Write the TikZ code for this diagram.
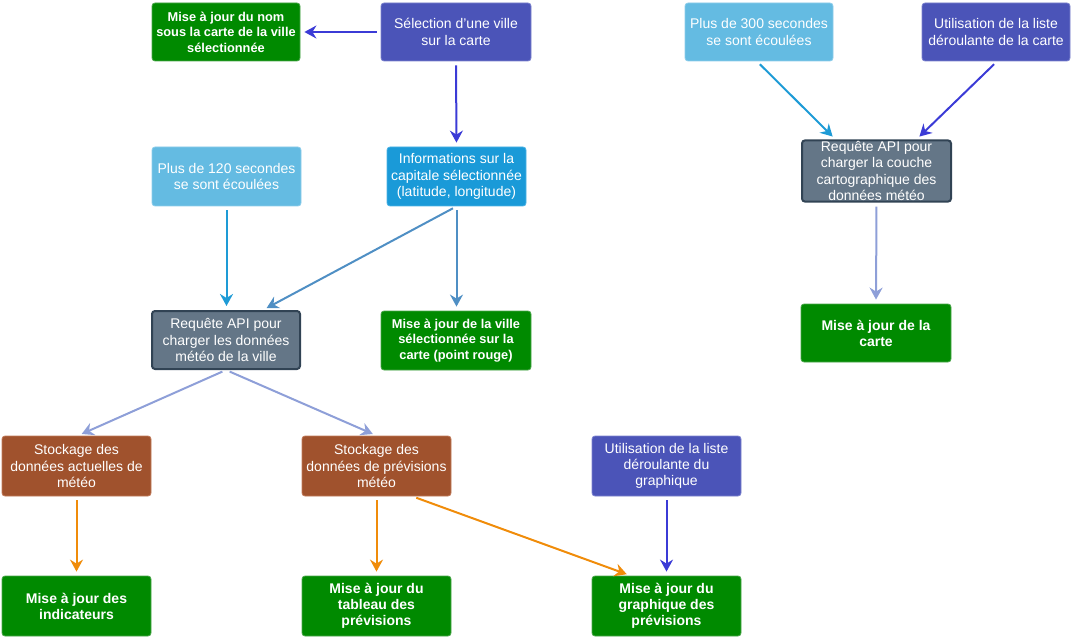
\documentclass[tikz,border=0pt]{standalone}
\usepackage{fontspec}
\setmainfont{Liberation Sans}
\usetikzlibrary{arrows.meta}
\definecolor{cgreen}{HTML}{008A00}
\definecolor{cgreenb}{HTML}{4CA64C}
\definecolor{cpurple}{HTML}{4B54B8}
\definecolor{cpurpleb}{HTML}{7C82CE}
\definecolor{clblue}{HTML}{64BBE2}
\definecolor{clblueb}{HTML}{8ECDEA}
\definecolor{cblue}{HTML}{1A9AD8}
\definecolor{cblueb}{HTML}{4CB3E4}
\definecolor{cgray}{HTML}{647687}
\definecolor{cgrayb}{HTML}{314354}
\definecolor{cbrown}{HTML}{A0522D}
\definecolor{cbrownb}{HTML}{C07A5A}
\definecolor{aviolet}{HTML}{3B3BD6}
\definecolor{acyan}{HTML}{1E9BD6}
\definecolor{asteel}{HTML}{4F8FC4}
\definecolor{aperi}{HTML}{8E9FD8}
\definecolor{aorange}{HTML}{F08C0A}
\tikzset{
  box/.style={rectangle, rounded corners=3pt, align=center, text=white,
    font=\fontsize{14}{16.3}\selectfont, inner sep=1pt, line width=0.8pt},
  gbox/.style={box, fill=cgreen, draw=cgreenb, font=\fontsize{12.8}{15.5}\selectfont\bfseries},
  gbigbox/.style={gbox, font=\fontsize{14}{16}\selectfont\bfseries},
  pbox/.style={box, fill=cpurple, draw=cpurpleb},
  lbbox/.style={box, fill=clblue, draw=clblueb},
  bbox/.style={box, fill=cblue, draw=cblueb},
  graybox/.style={box, fill=cgray, draw=cgrayb, line width=2pt},
  brbox/.style={box, fill=cbrown, draw=cbrownb},
  arr/.style={line width=2pt, -{Stealth[length=12pt,width=13pt,inset=4pt]}, shorten >=4pt, shorten <=4pt}
}
\begin{document}
\begin{tikzpicture}[x=1pt,y=-1pt]
\useasboundingbox (0,0) rectangle (1073,639);
\node[gbox, minimum width=148, minimum height=58] (nom) at (226,32) {Mise à jour du nom\\sous la carte de la ville\\sélectionnée};
\node[pbox, minimum width=150, minimum height=58] (sel) at (456,32) {Sélection d'une ville\\sur la carte};
\node[lbbox, minimum width=148, minimum height=58] (p300) at (759,32) {Plus de 300 secondes\\se sont écoulées};
\node[pbox, minimum width=148, minimum height=58] (ucarte) at (996,32) {Utilisation de la liste\\déroulante de la carte};
\node[graybox, minimum width=149, minimum height=58] (rcouche) at (876.5,171) {Requête API pour\\charger la couche\\cartographique des\\données météo};
\node[lbbox, minimum width=149, minimum height=59] (p120) at (226.5,176.5) {Plus de 120 secondes\\se sont écoulées};
\node[bbox, minimum width=139, minimum height=59] (info) at (456.5,176.5) {Informations sur la\\capitale sélectionnée\\(latitude, longitude)};
\node[graybox, minimum width=148, minimum height=58] (rville) at (226,340) {Requête API pour\\charger les données\\météo de la ville};
\node[gbox, minimum width=150, minimum height=59] (mville) at (456,340.5) {Mise à jour de la ville\\sélectionnée sur la\\carte (point rouge)};
\node[gbigbox, minimum width=150, minimum height=58] (mcarte) at (876,333) {Mise à jour de la\\carte};
\node[brbox, minimum width=149, minimum height=60] (st1) at (76.5,466) {Stockage des\\données actuelles de\\météo};
\node[brbox, minimum width=149, minimum height=60] (st2) at (376.5,466) {Stockage des\\données de prévisions\\météo};
\node[pbox, minimum width=149, minimum height=60] (ugraph) at (666.5,466) {Utilisation de la liste\\déroulante du\\graphique};
\node[gbigbox, minimum width=149, minimum height=60] (indic) at (76.5,606) {Mise à jour des\\indicateurs};
\node[gbigbox, minimum width=149, minimum height=60] (tab) at (376.5,606) {Mise à jour du\\tableau des\\prévisions};
\node[gbigbox, minimum width=149, minimum height=60] (graph) at (666.5,606) {Mise à jour du\\graphique des\\prévisions};

\draw[arr, aviolet] (sel.west) -- (nom.east);
\draw[arr, aviolet] (sel.south) -- (info.north);
\draw[arr, acyan] ([xshift=-2]p300.south) -- ([xshift=-41]rcouche.north);
\draw[arr, aviolet] ([xshift=1]ucarte.south) -- ([xshift=40]rcouche.north);
\draw[arr, aperi] (rcouche.south) -- (mcarte.north);
\draw[arr, acyan] (p120.south) -- ([xshift=0.5]rville.north);
\draw[arr, asteel] (info.south) -- ([xshift=37]rville.north);
\draw[arr, asteel] (info.south) -- ([xshift=0.5]mville.north);
\draw[arr, aperi] (rville.south) -- ([xshift=1.5]st1.north);
\draw[arr, aperi] (rville.south) -- (st2.north);
\draw[arr, aorange] (st1.south) -- (indic.north);
\draw[arr, aorange] (st2.south) -- (tab.north);
\draw[arr, aorange] ([xshift=36]st2.south) -- ([xshift=-36]graph.north);
\draw[arr, aviolet] (ugraph.south) -- (graph.north);
\end{tikzpicture}
\end{document}
